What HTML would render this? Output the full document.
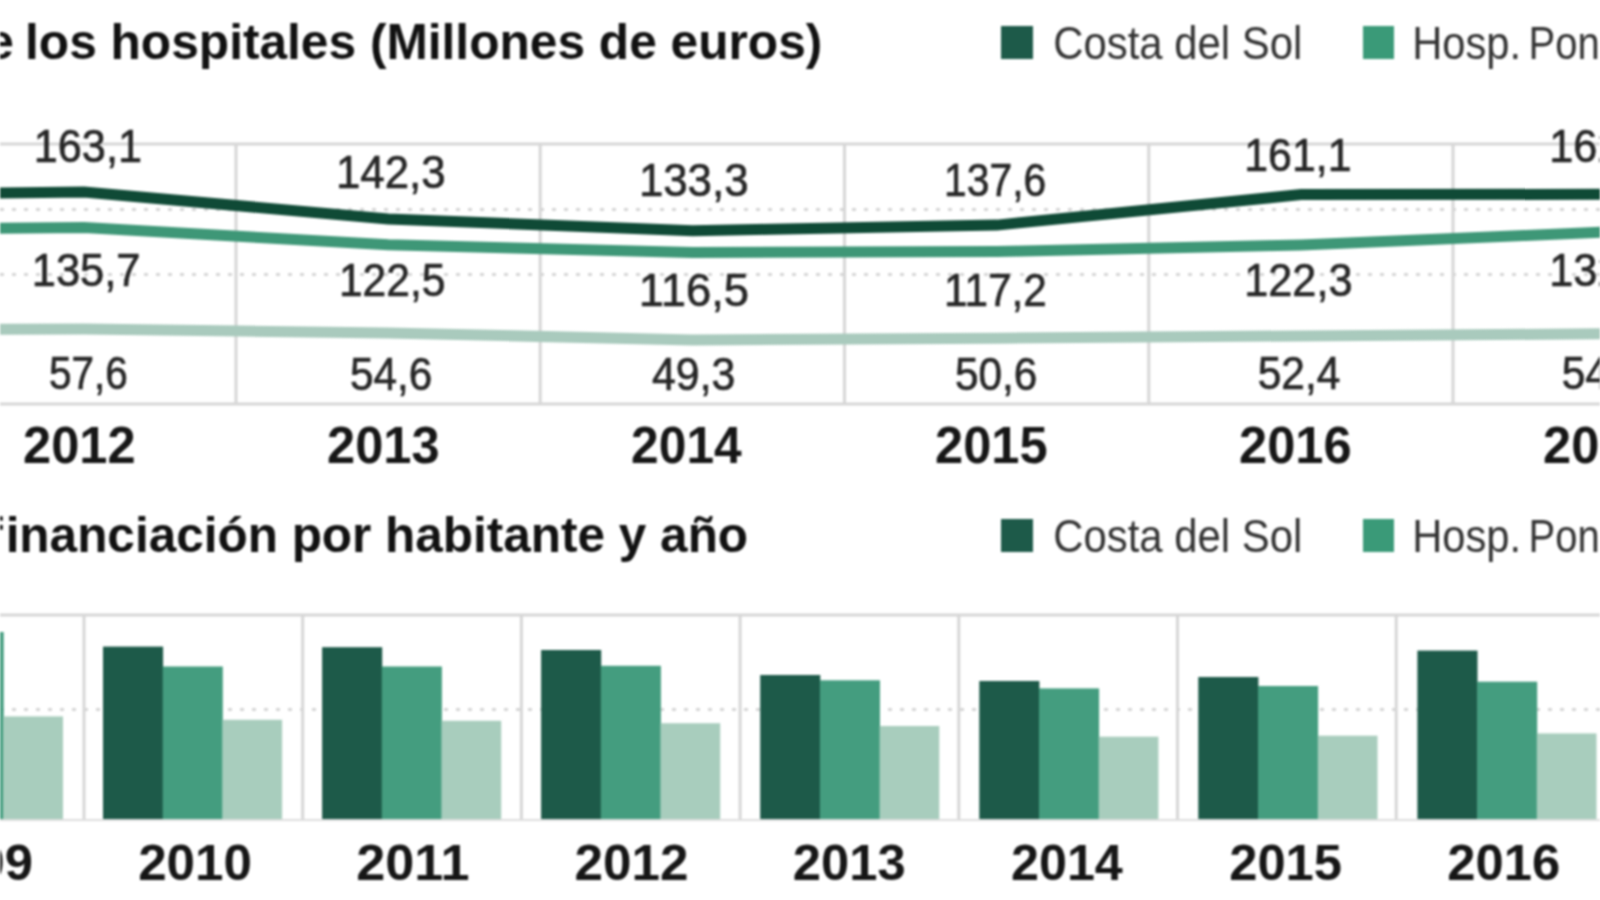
<!DOCTYPE html>
<html><head><meta charset="utf-8"><style>
html,body{margin:0;padding:0;background:#fff;width:1600px;height:900px;overflow:hidden}
svg{display:block;filter:blur(1.1px)}
.lab{font-family:"Liberation Sans",sans-serif;font-size:47px;fill:#262626;stroke:#262626;stroke-width:0.7px}
.yr{font-family:"Liberation Sans",sans-serif;font-size:52px;font-weight:bold;fill:#161616}
.yr2{font-family:"Liberation Sans",sans-serif;font-size:50px;font-weight:bold;fill:#161616}
.ttl{font-family:"Liberation Sans",sans-serif;font-size:50px;font-weight:bold;fill:#111}
.leg{font-family:"Liberation Sans",sans-serif;font-size:47px;fill:#333}

</style></head><body>
<svg width="1600" height="900" viewBox="0 0 1600 900">
<line x1="0" y1="144" x2="1600" y2="144" stroke="#d6d6d6" stroke-width="3"/>
<line x1="0" y1="404" x2="1600" y2="404" stroke="#d6d6d6" stroke-width="3"/>
<line x1="236.0" y1="144" x2="236.0" y2="404" stroke="#d6d6d6" stroke-width="3"/>
<line x1="540.2" y1="144" x2="540.2" y2="404" stroke="#d6d6d6" stroke-width="3"/>
<line x1="844.5" y1="144" x2="844.5" y2="404" stroke="#d6d6d6" stroke-width="3"/>
<line x1="1148.8" y1="144" x2="1148.8" y2="404" stroke="#d6d6d6" stroke-width="3"/>
<line x1="1453.0" y1="144" x2="1453.0" y2="404" stroke="#d6d6d6" stroke-width="3"/>
<line x1="0" y1="209.5" x2="1600" y2="209.5" stroke="#d6d6d6" stroke-width="3" stroke-dasharray="4 8"/>
<line x1="0" y1="274.5" x2="1600" y2="274.5" stroke="#d6d6d6" stroke-width="3" stroke-dasharray="4 8"/>
<path d="M-220.2,329.9L84.0,329.1L388.2,333.0L692.5,339.9L996.8,338.2L1301.0,335.9L1605.2,333.8L1909.5,333.1" fill="none" stroke="#a9cabd" stroke-width="11"/>
<path d="M-220.2,229.8L84.0,227.6L388.2,244.8L692.5,252.5L996.8,251.6L1301.0,245.0L1605.2,232.0L1909.5,227.2" fill="none" stroke="#3e9777" stroke-width="11"/>
<path d="M-220.2,196.0L84.0,192.0L388.2,219.0L692.5,230.7L996.8,225.1L1301.0,194.6L1605.2,194.3L1909.5,194.7" fill="none" stroke="#0f4a36" stroke-width="11"/>
<text x="33.74" y="161.5" class="lab" textLength="108.26" lengthAdjust="spacingAndGlyphs">163,1</text>
<text x="336.01" y="187.6" class="lab" textLength="109.51" lengthAdjust="spacingAndGlyphs">142,3</text>
<text x="638.90" y="196.3" class="lab" textLength="109.61" lengthAdjust="spacingAndGlyphs">133,3</text>
<text x="944.10" y="196.3" class="lab" textLength="102.12" lengthAdjust="spacingAndGlyphs">137,6</text>
<text x="1244.27" y="171" class="lab" textLength="107.22" lengthAdjust="spacingAndGlyphs">161,1</text>
<text x="1549.24" y="161.6" class="lab" textLength="108.26" lengthAdjust="spacingAndGlyphs">162,2</text>
<text x="31.73" y="285.8" class="lab" textLength="108.78" lengthAdjust="spacingAndGlyphs">135,7</text>
<text x="338.88" y="296" class="lab" textLength="106.59" lengthAdjust="spacingAndGlyphs">122,5</text>
<text x="638.80" y="306" class="lab" textLength="110.27" lengthAdjust="spacingAndGlyphs">116,5</text>
<text x="944.00" y="306" class="lab" textLength="102.73" lengthAdjust="spacingAndGlyphs">117,2</text>
<text x="1244.24" y="296" class="lab" textLength="108.26" lengthAdjust="spacingAndGlyphs">122,3</text>
<text x="1549.24" y="285.8" class="lab" textLength="108.26" lengthAdjust="spacingAndGlyphs">132,3</text>
<text x="48.88" y="389.3" class="lab" textLength="78.91" lengthAdjust="spacingAndGlyphs">57,6</text>
<text x="350.00" y="389.7" class="lab" textLength="82.34" lengthAdjust="spacingAndGlyphs">54,6</text>
<text x="652.09" y="389.7" class="lab" textLength="83.26" lengthAdjust="spacingAndGlyphs">49,3</text>
<text x="955.00" y="389.7" class="lab" textLength="82.34" lengthAdjust="spacingAndGlyphs">50,6</text>
<text x="1257.69" y="389.3" class="lab" textLength="82.65" lengthAdjust="spacingAndGlyphs">52,4</text>
<text x="1561.69" y="389.3" class="lab" textLength="82.65" lengthAdjust="spacingAndGlyphs">54,0</text>
<text x="23.05" y="463" class="yr" textLength="112.59" lengthAdjust="spacingAndGlyphs">2012</text>
<text x="327.05" y="463" class="yr" textLength="112.59" lengthAdjust="spacingAndGlyphs">2013</text>
<text x="631.09" y="463" class="yr" textLength="110.61" lengthAdjust="spacingAndGlyphs">2014</text>
<text x="935.05" y="463" class="yr" textLength="112.59" lengthAdjust="spacingAndGlyphs">2015</text>
<text x="1239.05" y="463" class="yr" textLength="112.59" lengthAdjust="spacingAndGlyphs">2016</text>
<text x="1543.05" y="463" class="yr" textLength="112.59" lengthAdjust="spacingAndGlyphs">2017</text>
<text x="-80.03" y="879.6" class="yr2" textLength="112.88" lengthAdjust="spacingAndGlyphs">2009</text>
<text x="138.15" y="879.6" class="yr2" textLength="113.94" lengthAdjust="spacingAndGlyphs">2010</text>
<text x="356.31" y="879.6" class="yr2" textLength="113.24" lengthAdjust="spacingAndGlyphs">2011</text>
<text x="574.55" y="879.6" class="yr2" textLength="113.94" lengthAdjust="spacingAndGlyphs">2012</text>
<text x="792.77" y="879.6" class="yr2" textLength="112.88" lengthAdjust="spacingAndGlyphs">2013</text>
<text x="1010.99" y="879.6" class="yr2" textLength="111.85" lengthAdjust="spacingAndGlyphs">2014</text>
<text x="1229.17" y="879.6" class="yr2" textLength="112.88" lengthAdjust="spacingAndGlyphs">2015</text>
<text x="1447.37" y="879.6" class="yr2" textLength="112.88" lengthAdjust="spacingAndGlyphs">2016</text>
<text x="25.02" y="59" class="ttl" textLength="797.30" lengthAdjust="spacingAndGlyphs">los hospitales (Millones de euros)</text>
<text x="5.63" y="551.5" class="ttl" textLength="742.47" lengthAdjust="spacingAndGlyphs">inanciación por habitante y año</text>
<text x="1053.22" y="59.3" class="leg" textLength="249.05" lengthAdjust="spacingAndGlyphs">Costa del Sol</text>
<text x="1412.20" y="59.3" class="leg" textLength="108.96" lengthAdjust="spacingAndGlyphs">Hosp.</text>
<text x="1528.60" y="59.3" class="leg" textLength="157.87" lengthAdjust="spacingAndGlyphs">Poniente</text>
<text x="1053.22" y="552.3" class="leg" textLength="249.05" lengthAdjust="spacingAndGlyphs">Costa del Sol</text>
<text x="1412.20" y="552.3" class="leg" textLength="108.96" lengthAdjust="spacingAndGlyphs">Hosp.</text>
<text x="1528.60" y="552.3" class="leg" textLength="157.87" lengthAdjust="spacingAndGlyphs">Poniente</text>
<text x="-13.82" y="59" class="ttl" textLength="27.62" lengthAdjust="spacingAndGlyphs">e</text>
<text x="-13.83" y="551.5" class="ttl" textLength="16.49" lengthAdjust="spacingAndGlyphs">f</text>
<rect x="1001" y="26" width="32" height="33" fill="#1d5a49"/>
<rect x="1363" y="26" width="31" height="33" fill="#3a9a78"/>
<rect x="1001" y="519" width="32" height="33" fill="#1d5a49"/>
<rect x="1363" y="519" width="31" height="33" fill="#3a9a78"/>
<line x1="0" y1="615" x2="1600" y2="615" stroke="#d6d6d6" stroke-width="3"/>
<line x1="84.0" y1="615" x2="84.0" y2="820" stroke="#d6d6d6" stroke-width="3"/>
<line x1="302.7" y1="615" x2="302.7" y2="820" stroke="#d6d6d6" stroke-width="3"/>
<line x1="521.4" y1="615" x2="521.4" y2="820" stroke="#d6d6d6" stroke-width="3"/>
<line x1="740.1" y1="615" x2="740.1" y2="820" stroke="#d6d6d6" stroke-width="3"/>
<line x1="958.8" y1="615" x2="958.8" y2="820" stroke="#d6d6d6" stroke-width="3"/>
<line x1="1177.5" y1="615" x2="1177.5" y2="820" stroke="#d6d6d6" stroke-width="3"/>
<line x1="1396.2" y1="615" x2="1396.2" y2="820" stroke="#d6d6d6" stroke-width="3"/>
<line x1="0" y1="709.5" x2="1600" y2="709.5" stroke="#d6d6d6" stroke-width="3" stroke-dasharray="4 8"/>
<rect x="-116.1" y="600" width="60.1" height="219.5" fill="#1d5a49"/>
<rect x="-56.4" y="632" width="60.1" height="187.5" fill="#449d7f"/>
<rect x="3.3" y="716.4" width="59.7" height="103.1" fill="#a8cdbd"/>
<rect x="103.0" y="646.6" width="60.1" height="172.9" fill="#1d5a49"/>
<rect x="162.7" y="666.5" width="60.1" height="153.0" fill="#449d7f"/>
<rect x="222.4" y="719.8" width="59.7" height="99.7" fill="#a8cdbd"/>
<rect x="322.1" y="647.2" width="60.1" height="172.3" fill="#1d5a49"/>
<rect x="381.8" y="666.5" width="60.1" height="153.0" fill="#449d7f"/>
<rect x="441.5" y="720.8" width="59.7" height="98.7" fill="#a8cdbd"/>
<rect x="541.1" y="650" width="60.1" height="169.5" fill="#1d5a49"/>
<rect x="600.8" y="665.8" width="60.1" height="153.7" fill="#449d7f"/>
<rect x="660.5" y="723.2" width="59.7" height="96.3" fill="#a8cdbd"/>
<rect x="760.2" y="675" width="60.1" height="144.5" fill="#1d5a49"/>
<rect x="819.9" y="680.3" width="60.1" height="139.2" fill="#449d7f"/>
<rect x="879.6" y="726" width="59.7" height="93.5" fill="#a8cdbd"/>
<rect x="979.3" y="681" width="60.1" height="138.5" fill="#1d5a49"/>
<rect x="1039.0" y="688.4" width="60.1" height="131.1" fill="#449d7f"/>
<rect x="1098.7" y="736.7" width="59.7" height="82.8" fill="#a8cdbd"/>
<rect x="1198.3" y="677" width="60.1" height="142.5" fill="#1d5a49"/>
<rect x="1258.0" y="686" width="60.1" height="133.5" fill="#449d7f"/>
<rect x="1317.8" y="735.7" width="59.7" height="83.8" fill="#a8cdbd"/>
<rect x="1417.4" y="650.6" width="60.1" height="168.9" fill="#1d5a49"/>
<rect x="1477.1" y="681.7" width="60.1" height="137.8" fill="#449d7f"/>
<rect x="1536.8" y="733.4" width="59.7" height="86.1" fill="#a8cdbd"/>
<line x1="0" y1="820" x2="1600" y2="820" stroke="#dedede" stroke-width="2"/>
</svg>
</body></html>
